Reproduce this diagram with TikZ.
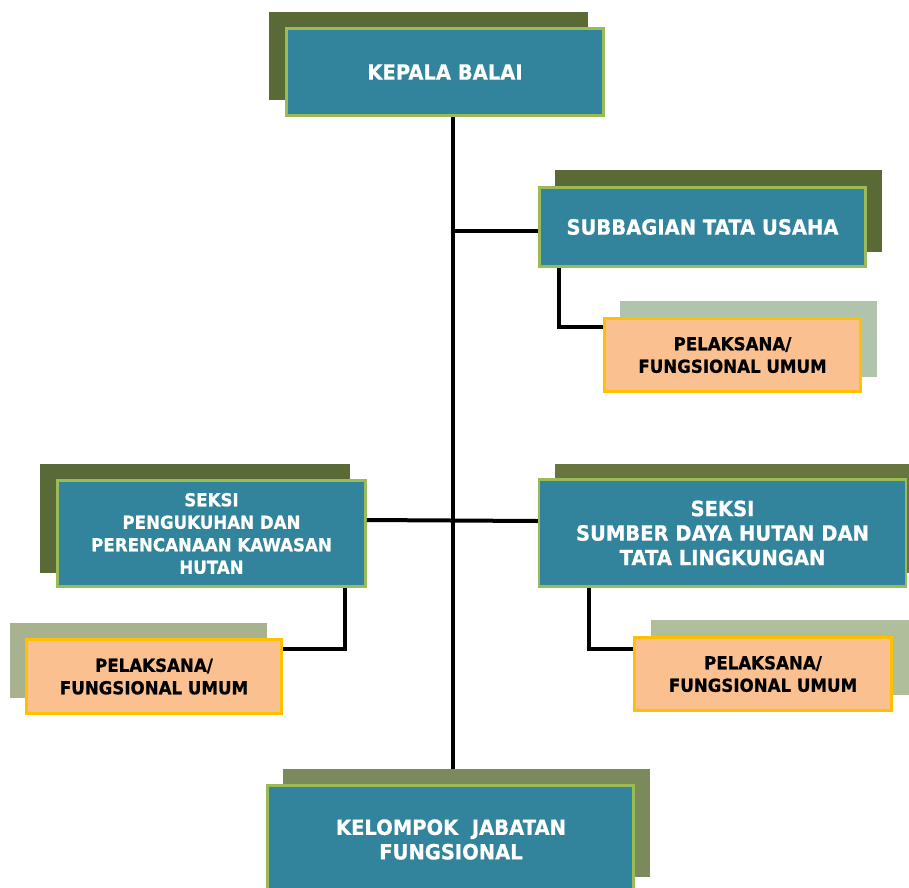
\documentclass[tikz,border=0pt]{standalone}
\usepackage{fontspec}
\setmainfont{DejaVu Sans}[FakeStretch=0.93,FakeBold=0.8]
\definecolor{teal}{HTML}{31849B}
\definecolor{lgreen}{HTML}{9BBB59}
\definecolor{olive}{HTML}{5A6A36}
\definecolor{oliveb}{HTML}{67763F}
\definecolor{olivec}{HTML}{7A8A5B}
\definecolor{sagea}{HTML}{AFC3AD}
\definecolor{sageb}{HTML}{A8B28F}
\definecolor{sagec}{HTML}{B0BE9C}
\definecolor{peach}{HTML}{FAC090}
\definecolor{gold}{HTML}{FFC000}
\begin{document}
\begin{tikzpicture}[x=1pt,y=-1pt,
  shadowbox/.style={rectangle,inner sep=0pt,draw=none},
  mainbox/.style={rectangle,inner sep=0pt,fill=teal,draw=lgreen,line width=2.5pt,
    text=white,font=\bfseries,align=center},
  subbox/.style={rectangle,inner sep=0pt,fill=peach,draw=gold,line width=2.5pt,
    text=black,font=\bfseries,align=center},
  conn/.style={line width=4pt,black},
  bigtxt/.style={font=\fontsize{21}{24.5}\selectfont\bfseries},
  midtxt/.style={font=\fontsize{17.9}{22.5}\selectfont\bfseries},
]
\useasboundingbox (0,0) rectangle (909,887);
\clip (0,0) rectangle (909,887);
% shadows
\node[shadowbox,fill=olive,minimum width=319pt,minimum height=88pt] (s1) at (428.5,56) {};
\node[shadowbox,fill=olive,minimum width=327pt,minimum height=82pt] (s2) at (718.5,211) {};
\node[shadowbox,fill=sagea,minimum width=257pt,minimum height=76pt] (s3) at (748.5,339) {};
\node[shadowbox,fill=olive,minimum width=310pt,minimum height=109pt] (s4) at (195,518.5) {};
\node[shadowbox,fill=sageb,minimum width=257pt,minimum height=75pt] (s5) at (138.5,660.5) {};
\node[shadowbox,fill=oliveb,minimum width=360pt,minimum height=109pt] (s6) at (735,518.5) {};
\node[shadowbox,fill=sagec,minimum width=260pt,minimum height=75pt] (s7) at (781,657.5) {};
\node[shadowbox,fill=olivec,minimum width=367pt,minimum height=108pt] (s8) at (466.5,823) {};
% connectors
\coordinate (ttop) at (453,117);
\coordinate (tbot) at (453,769);
\coordinate (j1) at (453,231);
\coordinate (c1) at (559,327);
\coordinate (c2) at (345,649);
\coordinate (c3) at (589,649);
\draw[conn] (ttop) -- (tbot);
% main boxes
\node[mainbox,bigtxt,minimum width=317pt,minimum height=87pt] (kb) at (445,72) {KEPALA BALAI};
\node[mainbox,bigtxt,minimum width=326pt,minimum height=79pt] (sub) at (702.5,227) {SUBBAGIAN TATA USAHA};
\node[mainbox,midtxt,minimum width=308pt,minimum height=106pt] (sl) at (211.5,533.5) {SEKSI\\PENGUKUHAN DAN\\PERENCANAAN KAWASAN\\HUTAN};
\node[mainbox,bigtxt,minimum width=367pt,minimum height=107pt] (sr) at (722.5,533) {SEKSI\\SUMBER DAYA HUTAN DAN\\TATA LINGKUNGAN};
\node[mainbox,bigtxt,minimum width=366pt,minimum height=113pt,text depth=0pt] (kj) at (450.5,842) {};
\node[text=white,bigtxt,align=center] (kjt) at (451,839.5) {KELOMPOK\ \ JABATAN\\FUNGSIONAL};
% sub boxes
\node[subbox,midtxt,minimum width=256pt,minimum height=73pt] (p1) at (732.5,355) {PELAKSANA/\\FUNGSIONAL UMUM};
\node[subbox,midtxt,minimum width=255pt,minimum height=74pt] (p2) at (154,676.5) {PELAKSANA/\\FUNGSIONAL UMUM};
\node[subbox,midtxt,minimum width=257pt,minimum height=73pt] (p3) at (763,674) {PELAKSANA/\\FUNGSIONAL UMUM};
% connectors to boxes
\draw[conn] (j1) -- (j1 -| sub.west);
\draw[conn] (sl.east |- 0,520) -- (sr.west |- 0,521);
\draw[conn] (sub.south -| c1) -- (c1) -- (c1 -| p1.west);
\draw[conn] (sl.south -| c2) -- (c2) -- (c2 -| p2.east);
\draw[conn] (sr.south -| c3) -- (c3) -- (c3 -| p3.west);
\end{tikzpicture}
\end{document}
